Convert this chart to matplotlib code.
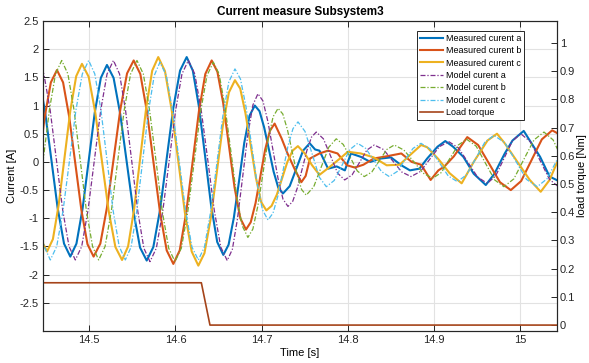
import numpy as np
import matplotlib
matplotlib.use("Agg")
import matplotlib.pyplot as plt

plt.rcParams["font.family"] = ["Liberation Sans", "DejaVu Sans"]
plt.rcParams["axes.unicode_minus"] = False

# (time [s], current [A]) samples for each phase
meas_a = [
    (14.4340, 1.75), (14.4413, 1.52), (14.4487, 0.89), (14.4560, 0.04), (14.4633, -0.82), (14.4707, -1.45),
    (14.4780, -1.68), (14.4851, -1.45), (14.4922, -0.83), (14.4993, 0.02), (14.5063, 0.87), (14.5134, 1.49),
    (14.5205, 1.72), (14.5282, 1.49), (14.5359, 0.85), (14.5436, -0.02), (14.5512, -0.88), (14.5589, -1.52),
    (14.5666, -1.75), (14.5743, -1.51), (14.5821, -0.85), (14.5898, 0.06), (14.5975, 0.96), (14.6053, 1.62),
    (14.6130, 1.86), (14.6201, 1.62), (14.6272, 0.98), (14.6343, 0.11), (14.6413, -0.77), (14.6484, -1.42),
    (14.6555, -1.65), (14.6616, -1.47), (14.6677, -0.99), (14.6738, -0.33), (14.6798, 0.34), (14.6859, 0.82),
    (14.6920, 1.00), (14.6975, 0.90), (14.7029, 0.61), (14.7084, 0.22), (14.7138, -0.17), (14.7193, -0.46),
    (14.7247, -0.56), (14.7325, -0.43), (14.7402, -0.12), (14.7480, 0.20),
    (14.7557, 0.33), (14.7620, 0.22), (14.7670, 0.20), (14.7770, -0.12), (14.7870, -0.08), (14.7965, -0.15),
    (14.8000, 0.00), (14.8035, 0.15), (14.8150, 0.09), (14.8260, 0.00), (14.8380, 0.06), (14.8500, 0.08),
    (14.8620, -0.06), (14.8720, -0.15), (14.8830, -0.12), (14.8920, 0.06), (14.9040, 0.27), (14.9130, 0.37),
    (14.9220, 0.27), (14.9340, 0.09), (14.9460, -0.21), (14.9600, -0.41), (14.9700, -0.21), (14.9820, 0.15),
    (14.9910, 0.38), (15.0040, 0.55), (15.0110, 0.38), (15.0230, 0.09), (15.0340, -0.26), (15.0420, -0.32),
    (15.0500, -0.38)]

meas_b = [
    (14.4200, -1.70), (14.4271, -1.48), (14.4342, -0.87), (14.4413, -0.04), (14.4483, 0.80), (14.4554, 1.41),
    (14.4625, 1.63), (14.4696, 1.41), (14.4767, 0.80), (14.4838, -0.03), (14.4908, -0.85), (14.4979, -1.46),
    (14.5050, -1.68), (14.5128, -1.45), (14.5205, -0.81), (14.5283, 0.06), (14.5360, 0.93), (14.5438, 1.57),
    (14.5515, 1.80), (14.5592, 1.56), (14.5668, 0.90), (14.5745, -0.01), (14.5822, -0.91), (14.5898, -1.57),
    (14.5975, -1.81), (14.6049, -1.57), (14.6123, -0.91), (14.6198, -0.01), (14.6272, 0.90), (14.6346, 1.56),
    (14.6420, 1.80), (14.6486, 1.60), (14.6553, 1.05), (14.6619, 0.30), (14.6685, -0.45), (14.6752, -1.00),
    (14.6818, -1.20), (14.6873, -1.07), (14.6929, -0.73), (14.6984, -0.26), (14.7039, 0.21), (14.7095, 0.55),
    (14.7150, 0.68), (14.7230, 0.42), (14.7300, 0.15), (14.7380, -0.12), (14.7460, -0.36), (14.7510, -0.25),
    (14.7560, 0.06), (14.7670, 0.15), (14.7770, 0.20), (14.7880, 0.15), (14.7990, -0.06), (14.8080, -0.10),
    (14.8180, -0.05), (14.8300, 0.06), (14.8450, 0.10), (14.8620, 0.15), (14.8740, 0.00), (14.8850, -0.05),
    (14.8960, -0.32), (14.9050, -0.15), (14.9120, -0.08), (14.9230, 0.10), (14.9385, 0.44), (14.9511, 0.30),
    (14.9638, -0.03), (14.9764, -0.36), (14.9890, -0.50), (15.0010, -0.34), (15.0130, 0.03), (15.0250, 0.40),
    (15.0370, 0.56), (15.0500, 0.45)]

meas_c = [
    (14.4080, 1.70), (14.4152, 1.48), (14.4223, 0.88), (14.4295, 0.06), (14.4367, -0.77), (14.4438, -1.37),
    (14.4510, -1.59), (14.4578, -1.37), (14.4645, -0.76), (14.4713, 0.08), (14.4780, 0.91), (14.4848, 1.52),
    (14.4915, 1.74), (14.4993, 1.51), (14.5070, 0.87), (14.5148, 0.00), (14.5225, -0.87), (14.5303, -1.51),
    (14.5380, -1.74), (14.5450, -1.50), (14.5520, -0.84), (14.5590, 0.06), (14.5660, 0.96), (14.5730, 1.62),
    (14.5800, 1.86), (14.5878, 1.61), (14.5955, 0.93), (14.6033, 0.01), (14.6110, -0.91), (14.6188, -1.59),
    (14.6265, -1.84), (14.6336, -1.62), (14.6407, -1.02), (14.6478, -0.20), (14.6548, 0.63), (14.6619, 1.23),
    (14.6690, 1.45), (14.6751, 1.30), (14.6811, 0.87), (14.6872, 0.30), (14.6933, -0.28), (14.6993, -0.71),
    (14.7054, -0.86), (14.7115, -0.78), (14.7176, -0.58), (14.7237, -0.29), (14.7298, 0.00), (14.7359, 0.20),
    (14.7420, 0.28), (14.7500, 0.15), (14.7580, -0.05), (14.7670, -0.23), (14.7780, -0.10), (14.7900, 0.05),
    (14.8000, 0.18), (14.8150, 0.15), (14.8300, 0.08), (14.8450, -0.06), (14.8600, -0.05), (14.8720, 0.12),
    (14.8850, 0.30), (14.8920, 0.26), (14.9050, 0.05), (14.9180, -0.20), (14.9320, -0.38), (14.9460, 0.00),
    (14.9620, 0.38), (14.9730, 0.50), (14.9820, 0.33), (14.9980, -0.03), (15.0110, -0.32), (15.0237, -0.53),
    (15.0340, -0.32), (15.0430, 0.00), (15.0500, 0.15)]

model_a = [
    (14.4400, 1.80), (14.4473, 1.56), (14.4546, 0.92), (14.4619, 0.03), (14.4692, -0.86), (14.4765, -1.50),
    (14.4838, -1.74), (14.4912, -1.50), (14.4985, -0.86), (14.5059, 0.03), (14.5133, 0.92), (14.5206, 1.56),
    (14.5280, 1.80), (14.5351, 1.56), (14.5421, 0.91), (14.5492, 0.02), (14.5563, -0.88), (14.5633, -1.53),
    (14.5704, -1.77), (14.5778, -1.53), (14.5852, -0.88), (14.5927, 0.02), (14.6001, 0.91), (14.6075, 1.56),
    (14.6149, 1.80), (14.6224, 1.56), (14.6299, 0.91), (14.6375, 0.03), (14.6450, -0.86), (14.6525, -1.51),
    (14.6600, -1.75), (14.6660, -1.55), (14.6719, -1.01), (14.6779, -0.27), (14.6838, 0.47), (14.6898, 1.01),
    (14.6957, 1.21), (14.7015, 1.08), (14.7073, 0.71), (14.7131, 0.21), (14.7189, -0.29), (14.7247, -0.66),
    (14.7305, -0.79), (14.7360, -0.70), (14.7414, -0.46), (14.7469, -0.13), (14.7524, 0.20), (14.7578, 0.44),
    (14.7633, 0.53), (14.7716, 0.41), (14.7798, 0.11), (14.7881, -0.20),
    (14.7963, -0.32), (14.8049, -0.23), (14.8135, -0.01), (14.8220, 0.21),
    (14.8306, 0.30), (14.8413, 0.22), (14.8519, 0.02), (14.8626, -0.18),
    (14.8732, -0.26), (14.8842, -0.17), (14.8951, 0.05), (14.9061, 0.27),
    (14.9170, 0.36), (14.9282, 0.25), (14.9394, -0.01), (14.9505, -0.27),
    (14.9617, -0.38), (14.9714, -0.25), (14.9811, 0.06), (14.9908, 0.37),
    (15.0005, 0.50), (15.0116, 0.36), (15.0228, 0.03), (15.0339, -0.31),
    (15.0450, -0.45)]

model_b = [
    (14.4250, -1.74), (14.4322, -1.50), (14.4393, -0.86), (14.4465, 0.03), (14.4537, 0.92), (14.4608, 1.56),
    (14.4680, 1.80), (14.4752, 1.56), (14.4823, 0.92), (14.4895, 0.03), (14.4966, -0.86), (14.5038, -1.50),
    (14.5109, -1.74), (14.5183, -1.50), (14.5257, -0.86), (14.5331, 0.03), (14.5405, 0.92), (14.5479, 1.56),
    (14.5553, 1.80), (14.5627, 1.56), (14.5700, 0.91), (14.5774, 0.02), (14.5847, -0.88), (14.5921, -1.53),
    (14.5994, -1.77), (14.6068, -1.53), (14.6142, -0.89), (14.6217, 0.00), (14.6291, 0.89), (14.6365, 1.53),
    (14.6439, 1.77), (14.6506, 1.56), (14.6573, 0.99), (14.6640, 0.22), (14.6706, -0.56), (14.6773, -1.13),
    (14.6840, -1.34), (14.6898, -1.19), (14.6957, -0.77), (14.7015, -0.20), (14.7073, 0.38), (14.7132, 0.80),
    (14.7190, 0.95), (14.7245, 0.85), (14.7299, 0.57), (14.7354, 0.18), (14.7408, -0.21), (14.7463, -0.49),
    (14.7517, -0.59), (14.7604, -0.44), (14.7691, -0.09), (14.7778, 0.26),
    (14.7865, 0.41), (14.7946, 0.31), (14.8028, 0.08), (14.8109, -0.16),
    (14.8190, -0.26), (14.8277, -0.18), (14.8364, 0.02), (14.8451, 0.22),
    (14.8538, 0.30), (14.8650, 0.21), (14.8761, 0.01), (14.8873, -0.20),
    (14.8984, -0.29), (14.9083, -0.19), (14.9182, 0.06), (14.9281, 0.30),
    (14.9380, 0.40), (14.9488, 0.28), (14.9595, -0.02), (14.9703, -0.32),
    (14.9810, -0.44), (14.9926, -0.30), (15.0043, 0.05), (15.0159, 0.39),
    (15.0275, 0.53), (15.0381, 0.39), (15.0488, 0.04), (15.0594, -0.31)]

model_c = [
    (14.4120, 1.80), (14.4191, 1.56), (14.4263, 0.92), (14.4334, 0.03), (14.4405, -0.86), (14.4477, -1.50),
    (14.4548, -1.74), (14.4622, -1.50), (14.4696, -0.86), (14.4771, 0.03), (14.4845, 0.92), (14.4919, 1.56),
    (14.4993, 1.80), (14.5064, 1.56), (14.5135, 0.92), (14.5206, 0.03), (14.5276, -0.86), (14.5347, -1.50),
    (14.5418, -1.74), (14.5485, -1.51), (14.5552, -0.86), (14.5619, 0.02), (14.5686, 0.89), (14.5753, 1.53),
    (14.5820, 1.77), (14.5894, 1.53), (14.5968, 0.89), (14.6043, 0.02), (14.6117, -0.86), (14.6191, -1.51),
    (14.6265, -1.74), (14.6336, -1.51), (14.6407, -0.89), (14.6478, -0.05), (14.6548, 0.80), (14.6619, 1.42),
    (14.6690, 1.65), (14.6754, 1.47), (14.6818, 0.98), (14.6882, 0.31), (14.6945, -0.36), (14.7009, -0.85),
    (14.7073, -1.03), (14.7131, -0.91), (14.7189, -0.60), (14.7247, -0.16), (14.7305, 0.28), (14.7363, 0.59),
    (14.7421, 0.71), (14.7503, 0.54), (14.7586, 0.14), (14.7668, -0.27),
    (14.7750, -0.44), (14.7841, -0.33), (14.7932, -0.06), (14.8023, 0.22),
    (14.8114, 0.33), (14.8206, 0.24), (14.8297, 0.04), (14.8389, -0.17),
    (14.8480, -0.26), (14.8572, -0.17), (14.8664, 0.04), (14.8756, 0.24),
    (14.8848, 0.33), (14.8954, 0.23), (14.9059, -0.01), (14.9165, -0.25),
    (14.9270, -0.35), (14.9376, -0.23), (14.9483, 0.06), (14.9589, 0.35),
    (14.9695, 0.47), (14.9821, 0.34), (14.9946, 0.02), (15.0072, -0.31),
    (15.0197, -0.44), (15.0310, -0.30), (15.0424, 0.03), (15.0537, 0.36)]

# load torque step (time [s], torque [Nm])
torque = [(14.40, 0.15), (14.630, 0.15), (14.640, 0.0), (15.10, 0.0)]

labels = ["Measured curent a", "Measured curent b", "Measured curent c",
          "Model curent a", "Model curent b", "Model curent c", "Load torque"]
colors = ["#0072BD", "#D95319", "#EDB120", "#7E2F8E", "#77AC30", "#4DBEEE", "#A5441A"]

fig = plt.figure(figsize=(5.89, 3.63), dpi=100)
ax = fig.add_axes([43 / 589, 1 - 331 / 363, 514 / 589, 310 / 363])
ax2 = ax.twinx()

for i, data in enumerate([meas_a, meas_b, meas_c]):
    t, v = np.array(data).T
    ax.plot(t, v, color=colors[i], lw=1.5, label=labels[i])
for i, data in enumerate([model_a, model_b, model_c]):
    t, v = np.array(data).T
    ax.plot(t, v, color=colors[3 + i], lw=0.9, ls=(0, (4, 1.5, 1, 1.5)), label=labels[3 + i])

t, v = np.array(torque).T
ax2.plot(t, v, color=colors[6], lw=1.2, label=labels[6])

ax.set_xlim(14.4463, 15.0426)
ax.set_ylim(-3, 2.5)
ax2.set_ylim(-0.021, 1.078)

xt = [14.5, 14.6, 14.7, 14.8, 14.9, 15.0]
ax.set_xticks(xt)
ax.set_xticklabels([f"{x:g}" for x in xt])
yt = np.arange(-2.5, 2.51, 0.5)
ax.set_yticks(yt)
ax.set_yticklabels([f"{y:g}" for y in yt])
rt = np.arange(0, 1.01, 0.1)
ax2.set_yticks(rt)
ax2.set_yticklabels([f"{y:g}" for y in np.round(rt, 1)])

ax.grid(True, color="#e2e2e2", lw=0.8)
ax.set_axisbelow(True)
for a in (ax, ax2):
    a.tick_params(direction="in", length=4, width=0.7, labelsize=8, colors="#262626", pad=3)
    for s in a.spines.values():
        s.set_color("#262626")
        s.set_linewidth(0.8)
ax.tick_params(top=True)
ax2.tick_params(pad=2)

ax.set_title("Current measure Subsystem3", fontsize=8.5, fontweight="bold", pad=4)
ax.set_xlabel("Time [s]", fontsize=8, labelpad=2)
ax.set_ylabel("Current [A]", fontsize=8, labelpad=2)
ax2.set_ylabel("load torque [Nm]", fontsize=8, labelpad=1)

h1, l1 = ax.get_legend_handles_labels()
h2, l2 = ax2.get_legend_handles_labels()
leg = ax2.legend(h1 + h2, l1 + l2, loc="upper left", bbox_to_anchor=(417 / 589, 1 - 31 / 363),
                 bbox_transform=fig.transFigure, fontsize=6.5, frameon=True, fancybox=False,
                 edgecolor="#262626", framealpha=1, borderpad=0.3, labelspacing=0.38,
                 handlelength=2.6, handletextpad=0.3, borderaxespad=0)
leg.get_frame().set_linewidth(0.7)

fig.savefig("out.png", dpi=100)
